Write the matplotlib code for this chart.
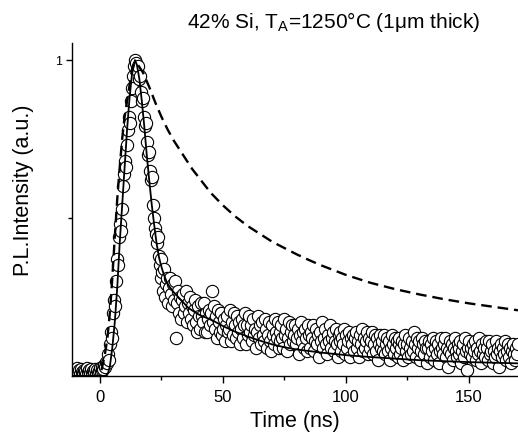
import numpy as np
import matplotlib
matplotlib.use("Agg")
import matplotlib.pyplot as plt
from matplotlib.ticker import FixedLocator

plt.rcParams['font.family'] = ['Liberation Sans', 'DejaVu Sans']
plt.rcParams['mathtext.fontset'] = 'custom'
plt.rcParams['mathtext.rm'] = 'Liberation Sans'

# ---- data ----
t_start = -11.0
t_step = 0.4

baseline = [0.012, 0.02, 0.008, 0.016, 0.025, 0.01, 0.018, 0.005, 0.022, 0.014, 0.009, 0.02,
            0.015, 0.006, 0.024, 0.012, 0.018, 0.01, 0.021, 0.008, 0.016, 0.013, 0.022, 0.007,
            0.019, 0.011, 0.017, 0.024, 0.012, 0.02, 0.028, 0.022, 0.035, 0.03, 0.045]
rise = [0.04, 0.07, 0.05, 0.10, 0.14, 0.12, 0.20, 0.24, 0.22, 0.30, 0.37, 0.35, 0.44, 0.48,
        0.46, 0.53, 0.60, 0.64, 0.68, 0.66, 0.73, 0.78, 0.82, 0.80, 0.87, 0.91, 0.95, 0.98, 1.0]
fast_decay = [0.99, 0.97, 0.98, 0.94, 0.95, 0.90, 0.87, 0.88, 0.82, 0.79, 0.80, 0.74, 0.70,
              0.71, 0.65, 0.62, 0.63, 0.54, 0.50, 0.47, 0.45, 0.42, 0.44, 0.38, 0.35, 0.37, 0.31]
tail = [
    0.33, 0.27, 0.34, 0.25, 0.29, 0.31, 0.23, 0.28, 0.31, 0.26, 0.22, 0.29, 0.24, 0.30, 0.12,
    0.23, 0.27, 0.20, 0.25, 0.18, 0.24, 0.26, 0.20, 0.22, 0.27, 0.17, 0.23, 0.20, 0.25, 0.18,
    0.22, 0.16, 0.21, 0.24, 0.17, 0.14, 0.22, 0.19, 0.15, 0.23, 0.19, 0.17, 0.23, 0.14, 0.20,
    0.14, 0.18, 0.21, 0.16, 0.20, 0.27, 0.17, 0.22, 0.15, 0.19, 0.12, 0.21, 0.17, 0.14, 0.20,
    0.20, 0.13, 0.15, 0.18, 0.11, 0.16, 0.19, 0.14, 0.15, 0.21, 0.11, 0.17, 0.13, 0.20, 0.16,
    0.12, 0.19, 0.14, 0.17, 0.10, 0.15, 0.18, 0.12, 0.16, 0.20, 0.10, 0.16, 0.13, 0.19, 0.14,
    0.16, 0.11, 0.18, 0.13, 0.15, 0.09, 0.14, 0.19, 0.12, 0.16, 0.10, 0.17, 0.13, 0.11, 0.18,
    0.15, 0.09, 0.13, 0.17, 0.11, 0.08, 0.16, 0.13, 0.10, 0.18, 0.14, 0.12, 0.17, 0.09, 0.14,
    0.11, 0.16, 0.12, 0.09, 0.18, 0.13, 0.15, 0.08, 0.12, 0.17, 0.10, 0.14, 0.16, 0.11, 0.13,
    0.16, 0.10, 0.12, 0.15, 0.07, 0.13, 0.17, 0.11, 0.14, 0.09, 0.15, 0.12, 0.08, 0.16, 0.13,
    0.09, 0.14, 0.12, 0.16, 0.08, 0.11, 0.15, 0.10, 0.13, 0.06, 0.14, 0.11, 0.17, 0.09, 0.12,
    0.15, 0.10, 0.07, 0.13, 0.11, 0.16, 0.09, 0.12, 0.14, 0.08, 0.11, 0.15, 0.10, 0.06, 0.13,
    0.11, 0.14, 0.08, 0.12, 0.10, 0.15, 0.07, 0.13, 0.09, 0.11, 0.14, 0.06, 0.12, 0.10, 0.13,
    0.08, 0.12, 0.14, 0.09, 0.11, 0.06, 0.13, 0.10, 0.15, 0.08, 0.12, 0.09, 0.11, 0.14, 0.07,
    0.12, 0.09, 0.11, 0.14, 0.07, 0.10, 0.13, 0.08, 0.12, 0.05, 0.10, 0.13, 0.09, 0.11, 0.08,
    0.13, 0.07, 0.10, 0.12, 0.08, 0.11, 0.05, 0.09, 0.13, 0.10, 0.07, 0.12, 0.09, 0.11, 0.06,
    0.10, 0.12, 0.07, 0.09, 0.11, 0.05, 0.10, 0.13, 0.08, 0.10, 0.06, 0.12, 0.09, 0.07, 0.11,
    0.08, 0.14, 0.10, 0.06, 0.12, 0.09, 0.11, 0.05, 0.08, 0.12, 0.10, 0.07, 0.11, 0.09, 0.04,
    0.09, 0.11, 0.06, 0.10, 0.08, 0.12, 0.05, 0.09, 0.11, 0.07, 0.10, 0.04, 0.08, 0.12, 0.09,
    0.07, 0.10, 0.12, 0.06, 0.09, 0.03, 0.08, 0.11, 0.07, 0.10, 0.05, 0.09, 0.12, 0.08, 0.06,
    0.10, 0.07, 0.09, 0.11, 0.04, 0.08, 0.10, 0.06, 0.12, 0.08, 0.02, 0.09, 0.11, 0.07, 0.09,
    0.06, 0.10, 0.08, 0.11, 0.05, 0.09, 0.07, 0.12, 0.08, 0.04, 0.10, 0.07, 0.09, 0.06, 0.11,
    0.09, 0.05, 0.11, 0.07, 0.08, 0.10, 0.04, 0.08, 0.06, 0.11, 0.07, 0.09, 0.03, 0.08, 0.10,
    0.06, 0.09, 0.07, 0.11, 0.05, 0.08, 0.10, 0.06, 0.09, 0.04, 0.08, 0.10, 0.07, 0.05, 0.09,
    0.07, 0.10,
]
pl_data = baseline + rise + fast_decay + tail
time_data = t_start + t_step * np.arange(len(pl_data))

fit_t = [-11, 2.5, 3.3, 4, 5, 6, 7, 8, 9, 10, 11, 12, 13, 14.2, 15, 16, 17, 18, 19, 20, 21,
         22, 23, 24, 25, 26, 27, 28, 30, 33, 36, 40, 46, 50, 55, 60, 65, 70, 75, 80, 90, 100,
         110, 120, 130, 140, 150, 160, 170]
fit_v = [0, 0, 0.01, 0.03, 0.09, 0.17, 0.28, 0.42, 0.54, 0.66, 0.78, 0.88, 0.955, 1.0, 0.985,
         0.94, 0.87, 0.79, 0.70, 0.62, 0.545, 0.48, 0.42, 0.375, 0.345, 0.32, 0.30, 0.285,
         0.265, 0.24, 0.215, 0.195, 0.175, 0.158, 0.14, 0.125, 0.112, 0.10, 0.091, 0.084,
         0.074, 0.066, 0.06, 0.055, 0.05, 0.047, 0.044, 0.042, 0.04]

ref_t = [-11, 0, 1.2, 2, 3, 4, 5, 6, 7, 8, 9, 10, 11, 12, 13, 14, 15, 17.5, 20, 22.5, 25,
         27.5, 30, 32.5, 35, 37.5, 40, 45, 50, 55, 60, 65, 70, 75, 80, 85, 90, 95, 100, 110,
         120, 130, 140, 150, 160, 170]
ref_v = [0, 0, 0.04, 0.07, 0.12, 0.20, 0.31, 0.44, 0.56, 0.66, 0.75, 0.82, 0.87, 0.92, 0.97,
         0.99, 0.99, 0.96, 0.915, 0.865, 0.82, 0.78, 0.745, 0.715, 0.685, 0.655, 0.63, 0.58,
         0.54, 0.505, 0.475, 0.45, 0.425, 0.405, 0.385, 0.367, 0.35, 0.335, 0.32, 0.295,
         0.275, 0.258, 0.243, 0.23, 0.219, 0.208]

title_text = "42% Si, T$_\\mathrm{A}$=1250°C (1μm thick)"

# ---- figure ----
fig = plt.figure(figsize=(5.18, 4.32), dpi=100)
ax = fig.add_axes([72/518, 1 - 376/432, 1 - 72/518, (376 - 43)/432])

ax.scatter(time_data, pl_data, s=78, facecolors='white', edgecolors='black',
           linewidths=0.8, zorder=2)
ax.plot(fit_t, fit_v, color='black', lw=1.3, zorder=3)
ax.plot(ref_t, ref_v, color='black', lw=1.7, linestyle=(0, (4.5, 2.5)), zorder=3)

ax.set_xlim(-11.4, 170)
ax.set_ylim(0, 1.054)

for s in ['top', 'right']:
    ax.spines[s].set_visible(False)
ax.spines['left'].set_linewidth(1.0)
ax.spines['bottom'].set_linewidth(1.0)

ax.set_xticks([0, 50, 100, 150])
ax.xaxis.set_minor_locator(FixedLocator([25, 75, 125]))
ax.set_yticks([1])
ax.set_yticklabels(['1'])
ax.yaxis.set_minor_locator(FixedLocator([0.5]))
ax.tick_params(axis='x', which='major', direction='out', length=5, width=1, labelsize=12, pad=5)
ax.tick_params(axis='x', which='minor', direction='out', length=3, width=1)
ax.tick_params(axis='y', which='major', direction='out', length=4, width=1, labelsize=9, pad=3)
ax.tick_params(axis='y', which='minor', direction='out', length=3, width=1)

fig.text(295/518, 1 - 421/432, "Time (ns)", ha='center', va='center', fontsize=15.5)
fig.text(24/518, 1 - 190/432, "P.L.Intensity (a.u.)", ha='center', va='center',
         rotation=90, fontsize=15.5)
fig.text(334/518, 1 - 22/432, title_text, ha='center', va='center', fontsize=15)

fig.savefig("out.png", dpi=100)
